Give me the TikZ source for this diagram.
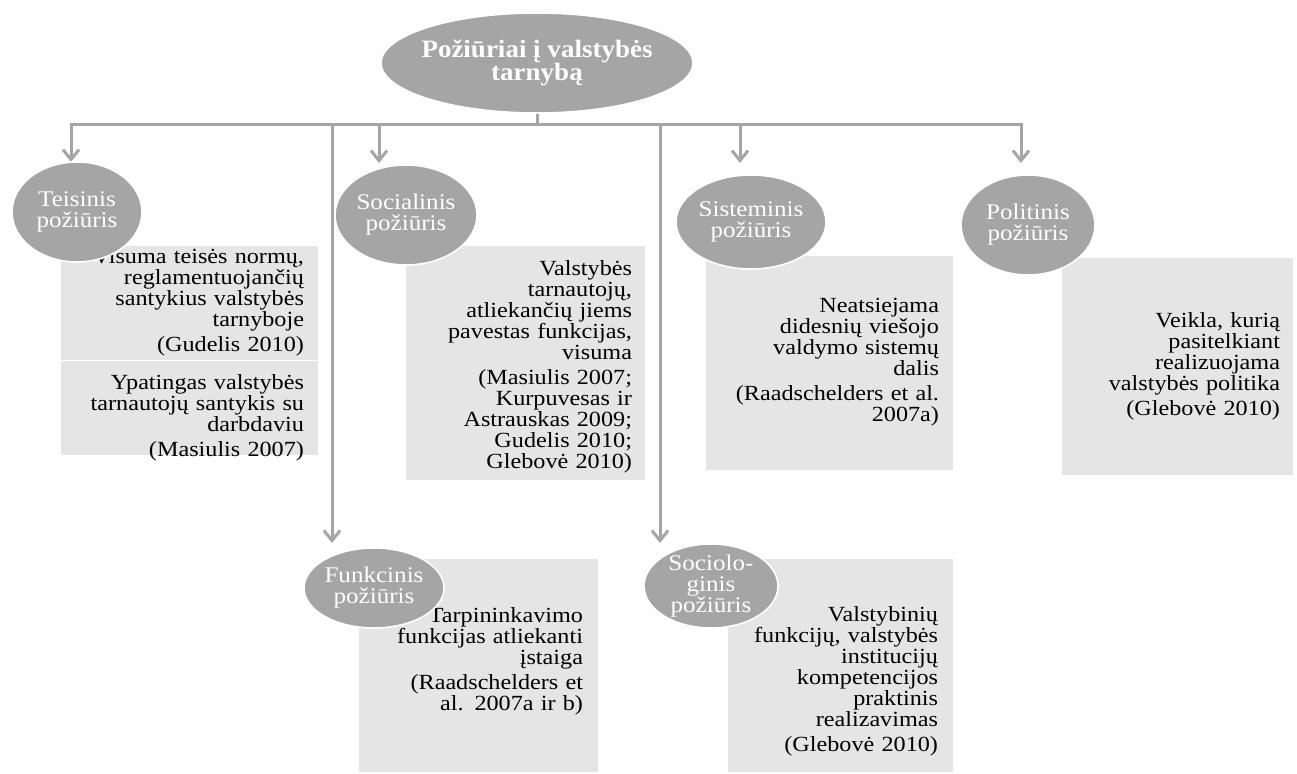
\documentclass[tikz,border=0pt]{standalone}
\usepackage{fontspec}
\setmainfont{Liberation Serif}[FakeStretch=1.12]
\newfontfamily\headfont{Liberation Serif}[FakeStretch=1.08]
\usepackage{xcolor}
\usepackage{tikz}
\usetikzlibrary{shapes.geometric, arrows.meta, positioning}
\definecolor{circgray}{HTML}{A5A5A5}
\definecolor{boxgray}{HTML}{E5E5E5}
\tikzset{
    approach/.style={
        ellipse,
        fill=circgray,
        draw=white,
        line width=0.8pt,
        inner sep=-2pt,
        align=center,
        text=white,
        font=\fontsize{11.2}{10.5}\selectfont
    },
    rootnode/.style={
        approach,
        inner sep=-3pt,
        font=\headfont\bfseries\fontsize{12.5}{11.5}\selectfont
    },
    infobox/.style={
        rectangle,
        fill=boxgray,
        draw=white,
        line width=0.4pt,
        inner sep=0pt
    },
    infotext/.style={
        anchor=east,
        inner sep=0pt,
        text width=116pt,
        align=right,
        font=\fontsize{10.8}{10.5}\selectfont
    },
    branch/.style={
        draw=circgray,
        line width=1.5pt
    },
    link/.style={
        branch,
        -{Straight Barb[length=5pt, width=8pt]}
    }
}

\begin{document}
\begin{tikzpicture}[x=0.5pt, y=-0.5pt]

\useasboundingbox (0,0) rectangle (1297,774);

% hierarchy connectors
\coordinate (bus) at (537,125);
\coordinate (tTeis) at (71,162);
\coordinate (tSocial) at (379,163);
\coordinate (tFunk) at (332,543);
\coordinate (tSociol) at (660,543);
\coordinate (tSistem) at (740,163);
\coordinate (tPolit) at (1021,163);

\node[rootnode, minimum width=156pt, minimum height=50pt] (root) at (537,63) {Požiūriai į valstybės\\tarnybą};

\draw[branch] (root) -- (bus);
\foreach \t in {tTeis, tSocial, tFunk, tSociol, tSistem, tPolit}
    \draw[link] (bus) -| (\t);

% text boxes
\node[infobox, minimum width=129pt, minimum height=57.5pt] (bTeisA) at (189,302.5) {};
\node[infobox, minimum width=129pt, minimum height=47.5pt] (bTeisB) at (189,407.5) {};
\node[infobox, minimum width=120pt, minimum height=117.5pt] (bSocial) at (525,362.5) {};
\node[infobox, minimum width=124pt, minimum height=107.5pt] (bSistem) at (829,362.5) {};
\node[infobox, minimum width=116pt, minimum height=109pt] (bPolit) at (1177,366) {};
\node[infobox, minimum width=120pt, minimum height=107pt] (bFunk) at (478,665) {};
\node[infobox, minimum width=113pt, minimum height=107pt] (bSociol) at (840,665) {};

\node[infotext] (xTeisA) at ([xshift=-7pt]bTeisA.east) {Visuma teisės normų,\\ reglamentuojančių\\ santykius valstybės\\ tarnyboje\\[2pt] (Gudelis 2010)};
\node[infotext] (xTeisB) at ([xshift=-7pt, yshift=-5.25pt]bTeisB.east) {Ypatingas valstybės\\ tarnautojų santykis su\\ darbdaviu\\[2pt] (Masiulis 2007)};
\node[infotext] (xSocial) at ([xshift=-6.5pt, yshift=-2pt]bSocial.east) {Valstybės\\ tarnautojų,\\ atliekančių jiems\\ pavestas funkcijas,\\ visuma\\[2pt] (Masiulis 2007;\\ Kurpuvesas ir\\ Astrauskas 2009;\\ Gudelis 2010;\\ Glebovė 2010)};
\node[infotext] (xSistem) at ([xshift=-7pt]bSistem.east) {Neatsiejama\\ didesnių viešojo\\ valdymo sistemų\\ dalis\\[2pt] (Raadschelders et al.\\ 2007a)};
\node[infotext] (xPolit) at ([xshift=-6.5pt]bPolit.east) {Veikla, kurią\\ pasitelkiant\\ realizuojama\\ valstybės politika\\[2pt] (Glebovė 2010)};
\node[infotext] (xFunk) at ([xshift=-7.5pt, yshift=1.75pt]bFunk.east) {Tarpininkavimo\\ funkcijas atliekanti\\ įstaiga\\[2pt] (Raadschelders et\\ al. 2007a ir b)};
\node[infotext] (xSociol) at ([xshift=-7.5pt, yshift=-8.25pt]bSociol.east) {Valstybinių\\ funkcijų, valstybės\\ institucijų\\ kompetencijos\\ praktinis\\ realizavimas\\[2pt] (Glebovė 2010)};

% approach circles
\node[approach, minimum width=65pt, minimum height=50pt] (teisinis) at (77,212) {Teisinis\\požiūris};
\node[approach, minimum width=71pt, minimum height=50pt] (socialinis) at (406,215) {Socialinis\\požiūris};
\node[approach, minimum width=75pt, minimum height=47pt] (sisteminis) at (751,222) {Sisteminis\\požiūris};
\node[approach, minimum width=67pt, minimum height=50pt] (politinis) at (1028,225) {Politinis\\požiūris};
\node[approach, minimum width=70pt, minimum height=40pt] (funkcinis) at (374,588) {Funkcinis\\požiūris};
\node[approach, minimum width=67pt, minimum height=42pt, inner sep=-3pt] (sociologinis) at (711,586) {Sociolo-\\ginis\\požiūris};

\end{tikzpicture}
\end{document}
